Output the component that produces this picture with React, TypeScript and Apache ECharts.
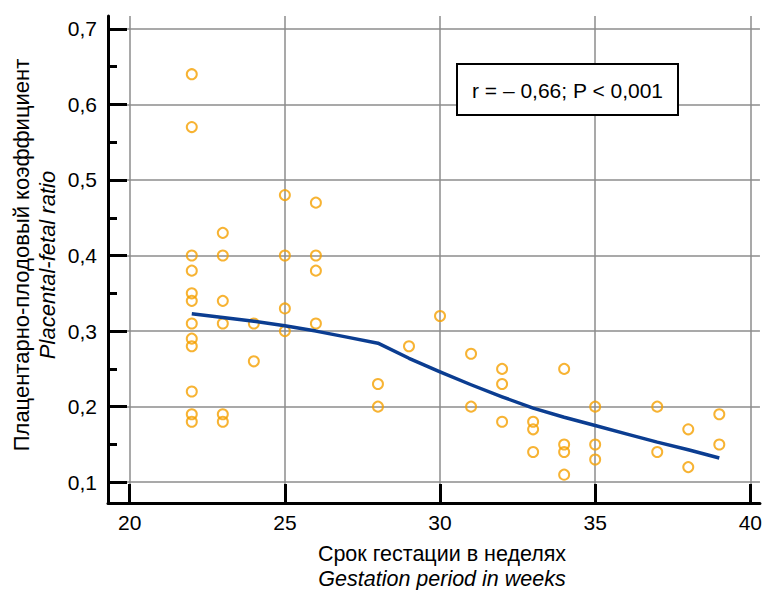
import React, { useEffect, useRef } from "react";
import * as echarts from "echarts";

const weeks = [
  22, 22, 22, 22, 22, 22, 22, 22, 22, 22, 22, 22,
  23, 23, 23, 23, 23, 23,
  24, 24,
  25, 25, 25, 25,
  26, 26, 26, 26,
  28, 28,
  29,
  30,
  31, 31,
  32, 32, 32,
  33, 33, 33,
  34, 34, 34, 34,
  35, 35, 35,
  37, 37,
  38, 38,
  39, 39,
];
const ratios = [
  0.64, 0.57, 0.40, 0.38, 0.35, 0.34, 0.31, 0.29, 0.28, 0.22, 0.19, 0.18,
  0.43, 0.40, 0.34, 0.31, 0.19, 0.18,
  0.31, 0.26,
  0.48, 0.40, 0.33, 0.30,
  0.47, 0.40, 0.38, 0.31,
  0.23, 0.20,
  0.28,
  0.32,
  0.27, 0.20,
  0.25, 0.23, 0.18,
  0.18, 0.17, 0.14,
  0.25, 0.15, 0.14, 0.11,
  0.20, 0.15, 0.13,
  0.20, 0.14,
  0.17, 0.12,
  0.19, 0.15,
];

const trendWeeks = [22, 23, 24, 25, 26, 27, 28, 29, 30, 31, 32, 33, 34, 35, 36, 37, 38, 39];
const trendValues = [0.323, 0.318, 0.313, 0.307, 0.3, 0.292, 0.284, 0.264, 0.246, 0.229, 0.213, 0.198, 0.186, 0.175, 0.164, 0.153, 0.143, 0.132];

const xTicks = [20, 25, 30, 35, 40];
const yTicks = [0.1, 0.2, 0.3, 0.4, 0.5, 0.6, 0.7];
const yMinorTicks = [0.15, 0.25, 0.35, 0.45, 0.55, 0.65];

const statText = "r = – 0,66; P < 0,001";
const xTitle1 = "Срок гестации в неделях";
const xTitle2 = "Gestation period in weeks";
const yTitle1 = "Плацентарно-плодовый коэффициент";
const yTitle2 = "Placental-fetal ratio";

const FONT = "'Liberation Sans', Arial, sans-serif";

export default function App() {
  const ref = useRef<HTMLDivElement>(null);
  useEffect(() => {
    document.body.style.margin = "0";
    if (!ref.current) return;
    const chart = echarts.init(ref.current, undefined, { renderer: "svg" });
    const points = weeks.map((w, i) => [w, ratios[i]]);
    const trend = trendWeeks.map((w, i) => [w, trendValues[i]]);
    chart.setOption({
      animation: false,
      backgroundColor: "#fff",
      textStyle: { fontFamily: FONT },
      grid: { left: 108, top: 16, right: 0, bottom: 87, containLabel: false },
      xAxis: {
        type: "value",
        min: 19.3,
        max: 40.31,
        axisLine: { show: true, onZero: false, lineStyle: { color: "#000", width: 3 } },
        axisTick: { show: true, inside: true, length: 19, customValues: xTicks, lineStyle: { color: "#000", width: 3 } },
        axisLabel: { customValues: xTicks, fontSize: 21, color: "#000", margin: 9, fontFamily: FONT },
        splitLine: { show: true, lineStyle: { color: "#8c8c8c", width: 1.5 } },
      },
      yAxis: [
        {
          type: "value",
          position: "left",
          min: 0.0725,
          max: 0.717,
          axisLine: { show: true, onZero: false, lineStyle: { color: "#000", width: 3 } },
          axisTick: { show: true, inside: true, length: 19, customValues: yTicks, lineStyle: { color: "#000", width: 3 } },
          axisLabel: {
            customValues: yTicks,
            fontSize: 21,
            color: "#000",
            margin: 11,
            fontFamily: FONT,
            formatter: (v: number) => v.toFixed(1).replace(".", ","),
          },
          splitLine: { show: true, lineStyle: { color: "#8c8c8c", width: 1.5 } },
        },
        {
          type: "value",
          position: "left",
          offset: 0,
          min: 0.0725,
          max: 0.717,
          axisLine: { show: false },
          axisTick: { show: true, inside: true, length: 9, customValues: yMinorTicks, lineStyle: { color: "#000", width: 3 } },
          axisLabel: { show: false },
          splitLine: { show: false },
        },
      ],
      series: [
        {
          type: "scatter",
          data: points,
          symbol: "circle",
          symbolSize: 10,
          itemStyle: { color: "rgba(255,255,255,0)", borderColor: "#F5A000", borderWidth: 2 },
          z: 3,
        },
        {
          type: "line",
          data: trend,
          smooth: false,
          showSymbol: false,
          symbol: "none",
          lineStyle: { color: "#0B3D91", width: 3.5, join: "round" },
          z: 4,
        },
      ],
      graphic: [
        {
          type: "rect",
          shape: { x: 457, y: 64, width: 221, height: 51 },
          style: { fill: "#fff", stroke: "#000", lineWidth: 2 },
          z: 10,
        },
        {
          type: "text",
          x: 567.5,
          y: 90,
          style: { text: statText, font: `21px ${FONT}`, fill: "#000", textAlign: "center", textVerticalAlign: "middle" },
          z: 11,
        },
        {
          type: "text",
          x: 442,
          y: 554,
          style: { text: xTitle1, font: `21.5px ${FONT}`, fill: "#000", textAlign: "center", textVerticalAlign: "middle" },
        },
        {
          type: "text",
          x: 442,
          y: 579,
          style: { text: xTitle2, font: `italic 21.5px ${FONT}`, fill: "#000", textAlign: "center", textVerticalAlign: "middle" },
        },
        {
          type: "text",
          x: 21,
          y: 255,
          rotation: Math.PI / 2,
          style: { text: yTitle1, font: `22px ${FONT}`, fill: "#000", textAlign: "center", textVerticalAlign: "middle" },
        },
        {
          type: "text",
          x: 47,
          y: 265,
          rotation: Math.PI / 2,
          style: { text: yTitle2, font: `italic 22px ${FONT}`, fill: "#000", textAlign: "center", textVerticalAlign: "middle" },
        },
      ],
    });
    return () => chart.dispose();
  }, []);
  return <div ref={ref} style={{ width: 765, height: 590 }} />;
}
